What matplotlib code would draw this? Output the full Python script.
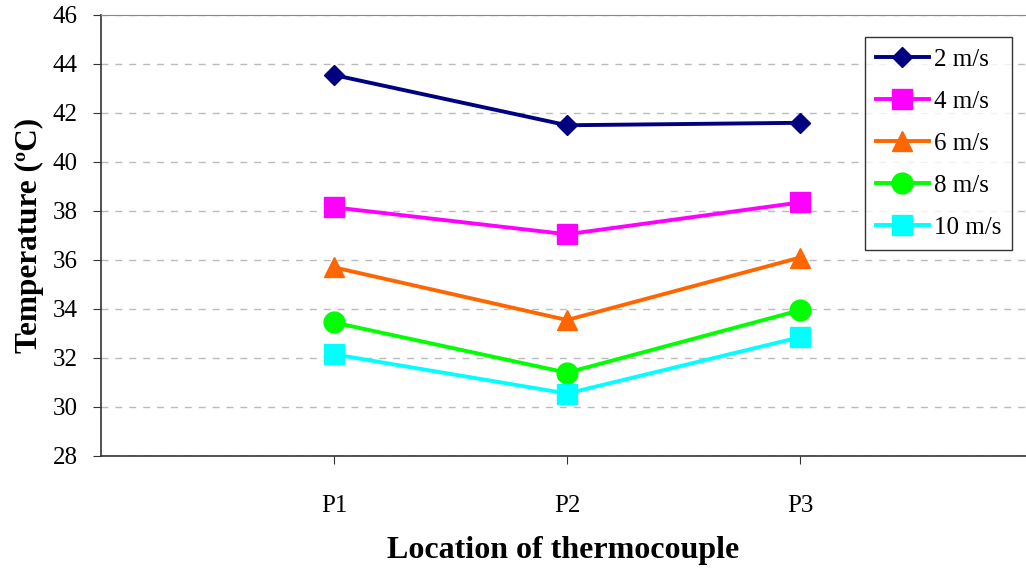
import matplotlib.pyplot as plt

# Data
locations = ["P1", "P2", "P3"]
speeds = ["2 m/s", "4 m/s", "6 m/s", "8 m/s", "10 m/s"]
t_2 = [43.55, 41.5, 41.6]
t_4 = [38.15, 37.05, 38.35]
t_6 = [35.7, 33.55, 36.1]
t_8 = [33.45, 31.4, 33.95]
t_10 = [32.15, 30.55, 32.85]

series = [t_2, t_4, t_6, t_8, t_10]
colors = ["#000080", "#FF00FF", "#FF6600", "#00FF00", "#00FFFF"]
markers = ["D", "s", "^", "o", "s"]
sizes = [10.5, 15, 15, 15, 14]

plt.rcParams["font.family"] = ["Liberation Serif", "DejaVu Serif"]

fig = plt.figure(figsize=(10.26, 5.73), dpi=100)
ax = fig.add_axes([101 / 1026, 1 - 456 / 573, 925 / 1026, 441 / 573])

x = [1, 2, 3]
for vals, name, c, m, s in zip(series, speeds, colors, markers, sizes):
    ax.plot(x, vals, color=c, marker=m, markersize=s, linewidth=2.8, label=name)

ax.set_xlim(0, 3.97)
ax.set_ylim(28, 46)
ax.set_yticks(range(28, 47, 2))
ax.set_xticks(x)
ax.set_xticklabels(locations)
ax.tick_params(axis="both", labelsize=18, direction="out", length=6, color="#333333")
ax.tick_params(axis="x", pad=22)
ax.tick_params(axis="y", pad=11)
ax.yaxis.grid(True, linestyle=(0, (5, 5)), color="#bbbbbb", linewidth=1)
ax.set_axisbelow(True)

ax.spines["right"].set_visible(False)
ax.spines["top"].set_color("#888888")
ax.spines["left"].set_color("#333333")
ax.spines["bottom"].set_color("#333333")
ax.spines["left"].set_linewidth(1.2)
ax.spines["bottom"].set_linewidth(1.2)

ax.set_xlabel("Location of thermocouple", fontsize=23, fontweight="bold", labelpad=14)
ax.set_ylabel("Temperature (ºC)", fontsize=22.5, fontweight="bold", labelpad=6)

leg = ax.legend(loc="upper right", bbox_to_anchor=(0.985, 0.950), borderaxespad=0,
                fontsize=18, frameon=True, fancybox=False, edgecolor="black",
                handlelength=2.1, borderpad=0.45, labelspacing=0.78, handletextpad=0.2)
leg.get_frame().set_linewidth(1)

fig.savefig("out.png", dpi=100)
